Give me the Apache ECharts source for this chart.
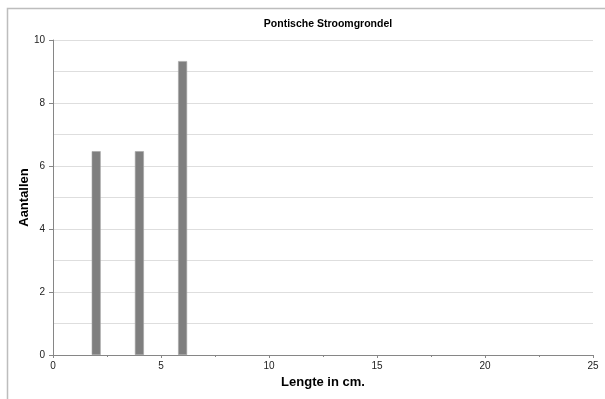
<!DOCTYPE html>
<html>
<head>
<meta charset="utf-8">
<script src="https://cdn.jsdelivr.net/npm/echarts@6/dist/echarts.min.js"></script>
<style>
  html, body { margin: 0; padding: 0; background: #ffffff; }
  #chart { width: 605px; height: 399px; }
</style>
</head>
<body>
<div id="chart"></div>
<script>
// Length classes (cm) and counts for the Pontische Stroomgrondel
const lengths = [2, 4, 6];
const counts = [6.47, 6.47, 9.33];
const xTicks = [0, 5, 10, 15, 20, 25];
const yTicks = [0, 2, 4, 6, 8, 10];

const chart = echarts.init(document.getElementById('chart'), null, { renderer: 'canvas' });

const axisGray = '#868686';
const gridGray = '#dedede';
const font = 'Liberation Sans, Arial, sans-serif';

chart.setOption({
  animation: false,
  backgroundColor: '#ffffff',
  title: {
    text: 'Pontische Stroomgrondel',
    left: 323, top: 14, textAlign: 'center',
    textStyle: { fontFamily: font, fontSize: 10.5, fontWeight: 'bold', color: '#000' }
  },
  graphic: [{
    type: 'rect', left: 5, top: 6,
    shape: { width: 640, height: 440 },
    style: { fill: 'none', stroke: '#bdbdbd', lineWidth: 1.5 },
    silent: true
  }],
  grid: { left: 53, right: 12, top: 40, bottom: 44 },
  xAxis: {
    type: 'value',
    min: xTicks[0], max: xTicks[xTicks.length - 1], interval: 5,
    name: 'Lengte in cm.',
    nameLocation: 'middle', nameGap: 21, nameMoveOverlap: false,
    nameTextStyle: { fontFamily: font, fontSize: 13, fontWeight: 'bold', color: '#000' },
    axisLine: { show: true, lineStyle: { color: axisGray, width: 1 } },
    axisTick: { show: true, inside: false, length: 3, lineStyle: { color: axisGray } },
    minorTick: { show: true, splitNumber: 2, length: 2, lineStyle: { color: axisGray } },
    axisLabel: { fontFamily: font, fontSize: 10, color: '#222', margin: 6 },
    splitLine: { show: false }
  },
  yAxis: {
    type: 'value',
    min: yTicks[0], max: yTicks[yTicks.length - 1], interval: 2,
    name: 'Aantallen',
    nameLocation: 'middle', nameGap: 22, nameMoveOverlap: false,
    nameTextStyle: { fontFamily: font, fontSize: 13, fontWeight: 'bold', color: '#000' },
    axisLine: { show: true, lineStyle: { color: axisGray, width: 1 } },
    axisTick: { show: true, length: 4, lineStyle: { color: axisGray } },
    minorTick: { show: false, splitNumber: 2 },
    axisLabel: { fontFamily: font, fontSize: 10, color: '#222', margin: 8 },
    splitLine: { show: true, lineStyle: { color: gridGray, width: 1 } },
    minorSplitLine: { show: true, lineStyle: { color: gridGray, width: 1 } }
  },
  series: [{
    type: 'bar',
    data: lengths.map((x, i) => [x, counts[i]]),
    barWidth: 9,
    itemStyle: { color: '#7f7f7f', borderColor: '#a6a6a6', borderWidth: 0.6 }
  }]
});
</script>
</body>
</html>
